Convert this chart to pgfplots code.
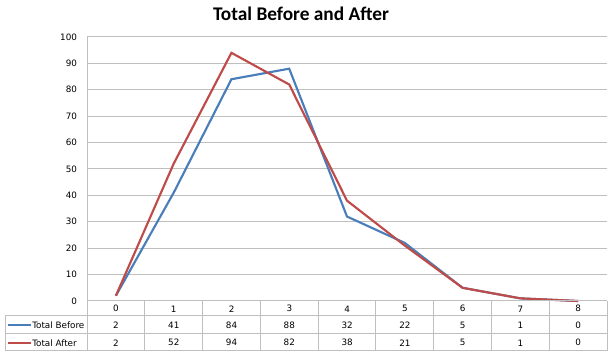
\documentclass[border=0pt]{standalone}
\usepackage{fontspec}
\setmainfont{Carlito}
\newfontfamily\tfont{DejaVu Sans}
\usepackage{pgfplots}
\pgfplotsset{compat=1.18}
\definecolor{bblue}{HTML}{4A7EBB}
\definecolor{rred}{HTML}{BE4B48}
\definecolor{gridc}{HTML}{BFBFBF}
\begin{document}
\begin{tikzpicture}[x=0.75pt,y=0.75pt]
\useasboundingbox (0,0) rectangle (610,356);
\node[font=\bfseries\fontsize{14.5}{16}\selectfont] at (301,{356-14}) {Total Before and After};
\begin{axis}[
  at={(87pt*0.75,55pt*0.75)}, anchor=south west,
  scale only axis, width=390pt, height=198pt,
  xmin=-0.5, xmax=8.5, ymin=0, ymax=100,
  ytick={0,10,...,100}, xtick=\empty,
  ymajorgrids, grid style={gridc, line width=0.75pt},
  axis x line*=bottom, axis y line*=left,
  axis line style={gridc, line width=0.75pt, -},
  major tick length=0pt,
  /pgf/number format/assume math mode=true,
  yticklabel style={font=\tfont\fontsize{6.6}{7}\selectfont, xshift=-4pt},
  clip=false,
]
\addplot[bblue, line width=1.6pt] coordinates {(0,2) (1,41) (2,84) (3,88) (4,32) (5,22) (6,5) (7,1) (8,0)};
\addplot[rred, line width=1.6pt] coordinates {(0,2) (1,52) (2,94) (3,82) (4,38) (5,21) (6,5) (7,1) (8,0)};
\end{axis}
% data table
\begin{scope}[gridc, line width=0.75pt]
\draw (87,{356-301}) -- (607,{356-301});
\draw (5,{356-316}) -- (607,{356-316});
\draw (5,{356-334}) -- (607,{356-334});
\draw (5,{356-351}) -- (607,{356-351});
\draw (5,{356-316}) -- (5,{356-351});
\foreach \k in {0,...,9} { \draw ({87+\k*57.78},{356-301}) -- ({87+\k*57.78},{356-351}); }
\end{scope}
\begin{scope}[font=\tfont\fontsize{6.6}{7}\selectfont]
\foreach \v [count=\i from 0] in {0,1,2,3,4,5,6,7,8} { \node at ({116+\i*57.78},{356-308.8}) {\v}; }
\foreach \v [count=\i from 0] in {2,41,84,88,32,22,5,1,0} { \node at ({116+\i*57.78},{356-325.3}) {\v}; }
\foreach \v [count=\i from 0] in {2,52,94,82,38,21,5,1,0} { \node at ({116+\i*57.78},{356-342.8}) {\v}; }
\draw[bblue, line width=1.5pt] (8,{356-325.3}) -- (31,{356-325.3});
\draw[rred, line width=1.5pt] (8,{356-342.8}) -- (31,{356-342.8});
\node[anchor=west, inner sep=0pt] at (32,{356-325.3}) {Total Before};
\node[anchor=west, inner sep=0pt] at (32,{356-342.8}) {Total After};
\end{scope}
\end{tikzpicture}
\end{document}
